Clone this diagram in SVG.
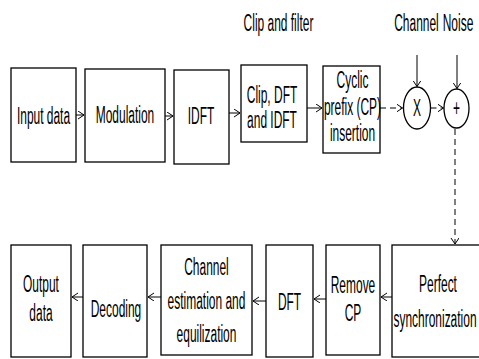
<svg xmlns="http://www.w3.org/2000/svg" width="479" height="359" viewBox="0 0 479 359">
<defs>
<style>
.box{fill:#fff;stroke:#000;stroke-width:1.3}
.t{font-family:"Liberation Sans",Arial,sans-serif;font-size:23px;text-anchor:middle;fill:#000}
.c{fill:none;stroke:#000;stroke-width:1}
.d{stroke-dasharray:6,4}
</style>
<marker id="a" markerWidth="8" markerHeight="10" refX="6" refY="4" orient="auto" markerUnits="userSpaceOnUse">
<path d="M0,0 L6,4 L0,8" fill="none" stroke="#000" stroke-width="1"/>
</marker>
</defs>
<rect width="479" height="359" fill="#fff"/>
<g id="labels">
<text class="t" transform="translate(278.5,31) scale(0.52,1)">Clip and filter</text>
<text class="t" transform="translate(416.5,31) scale(0.52,1)">Channel</text>
<text class="t" transform="translate(458,31) scale(0.52,1)">Noise</text>
</g>
<g id="input"><rect class="box" x="11" y="68" width="65" height="94"/><text class="t" transform="translate(43.5,124) scale(0.52,1)">Input data</text></g>
<g id="modulation"><rect class="box" x="85" y="69" width="80" height="93"/><text class="t" transform="translate(125,123) scale(0.52,1)">Modulation</text></g>
<g id="idft"><rect class="box" x="174" y="70" width="55" height="94"/><text class="t" transform="translate(201,124) scale(0.52,1)">IDFT</text></g>
<g id="clip"><rect class="box" x="241" y="65" width="66" height="77"/><text class="t" transform="translate(272,103) scale(0.52,1)">Clip, DFT</text><text class="t" transform="translate(272,128) scale(0.52,1)">and IDFT</text></g>
<g id="cyclic"><rect class="box" x="323" y="66" width="57" height="87"/><text class="t" transform="translate(352.5,88) scale(0.52,1)">Cyclic</text><text class="t" transform="translate(352.5,115) scale(0.52,1)">prefix (CP)</text><text class="t" transform="translate(352.5,141) scale(0.52,1)">insertion</text></g>
<g id="mult"><ellipse class="box" cx="417" cy="108" rx="13.5" ry="21"/><text class="t" transform="translate(417,116) scale(0.52,1)">X</text></g>
<g id="add"><ellipse class="box" cx="456.5" cy="108.5" rx="12.5" ry="19.5"/><text class="t" transform="translate(456.5,116) scale(0.52,1)">+</text></g>
<g id="perfect"><rect class="box" x="392" y="245" width="90" height="112"/><text class="t" transform="translate(438,292) scale(0.52,1)">Perfect</text><text class="t" transform="translate(435,326.5) scale(0.52,1)">synchronization</text></g>
<g id="removecp"><rect class="box" x="326" y="245" width="54" height="110"/><text class="t" transform="translate(353,293) scale(0.52,1)">Remove</text><text class="t" transform="translate(353,321) scale(0.52,1)">CP</text></g>
<g id="dft"><rect class="box" x="266" y="245" width="47" height="112"/><text class="t" transform="translate(289.5,310) scale(0.52,1)">DFT</text></g>
<g id="chest"><rect class="box" x="161" y="245" width="91" height="110"/><text class="t" transform="translate(206.5,275) scale(0.52,1)">Channel</text><text class="t" transform="translate(206.5,309) scale(0.52,1)">estimation and</text><text class="t" transform="translate(206.5,342) scale(0.52,1)">equilization</text></g>
<g id="decoding"><rect class="box" x="83" y="245" width="64" height="112"/><text class="t" transform="translate(116,317) scale(0.52,1)">Decoding</text></g>
<g id="output"><rect class="box" x="11" y="245" width="60" height="112"/><text class="t" transform="translate(41,292) scale(0.52,1)">Output</text><text class="t" transform="translate(41,321) scale(0.52,1)">data</text></g>
<g id="connectors">
<line class="c" x1="76" y1="115" x2="84" y2="115" marker-end="url(#a)"/>
<line class="c" x1="165" y1="116" x2="173" y2="116" marker-end="url(#a)"/>
<line class="c" x1="229" y1="113" x2="240" y2="113" marker-end="url(#a)"/>
<line class="c" x1="307" y1="108" x2="322" y2="108" marker-end="url(#a)"/>
<line class="c d" x1="380" y1="108" x2="402.5" y2="108" marker-end="url(#a)"/>
<line class="c d" x1="430.5" y1="108" x2="443.5" y2="108" marker-end="url(#a)"/>
<line class="c" x1="417" y1="55" x2="417" y2="86.5" marker-end="url(#a)"/>
<line class="c" x1="457" y1="55" x2="457" y2="88.5" marker-end="url(#a)"/>
<line class="c d" x1="455" y1="129" x2="455" y2="244" marker-end="url(#a)"/>
<line class="c" x1="392" y1="297" x2="381" y2="297" marker-end="url(#a)"/>
<line class="c" x1="326" y1="299" x2="314" y2="299" marker-end="url(#a)"/>
<line class="c" x1="266" y1="301" x2="253" y2="301" marker-end="url(#a)"/>
<line class="c" x1="161" y1="297" x2="148" y2="297" marker-end="url(#a)"/>
<line class="c" x1="83" y1="297" x2="72" y2="297" marker-end="url(#a)"/>
</g>
</svg>
